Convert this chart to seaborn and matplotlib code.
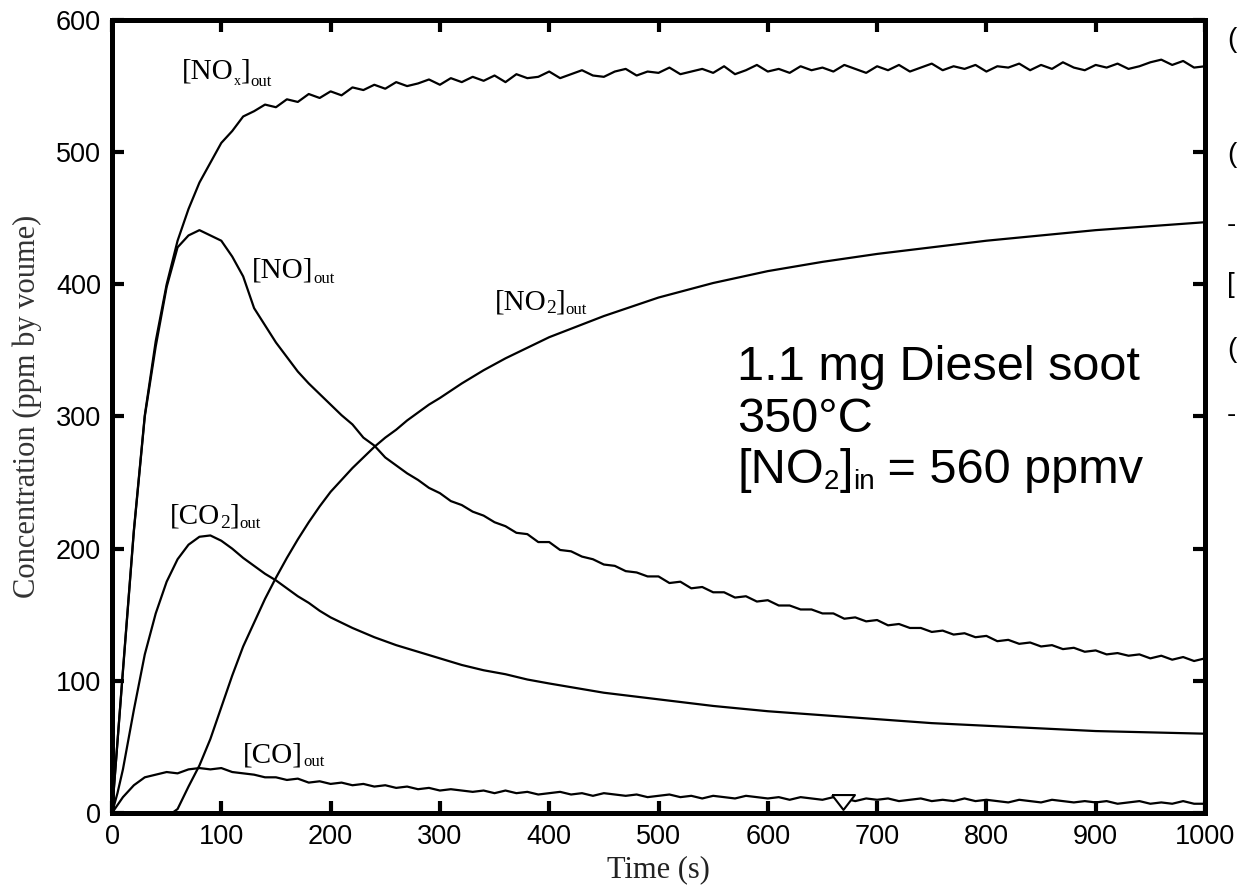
import matplotlib
matplotlib.use("Agg")
import matplotlib.pyplot as plt
import numpy as np
import pandas as pd
import seaborn as sns


# Time grid of the noisy analyser traces (s)
time_noisy = np.arange(0, 1001, 10)

# [NOx]out (ppmv)
nox_out = [0, 108, 214, 301, 357, 400, 433, 457, 477, 492,
           507, 516, 527, 531, 536, 534, 540, 538, 544, 541,
           546, 543, 549, 547, 551, 548, 553, 550, 552, 555,
           551, 556, 553, 557, 554, 558, 553, 559, 556, 557,
           561, 556, 559, 562, 558, 557, 561, 563, 558, 561,
           560, 564, 559, 561, 563, 560, 565, 559, 562, 566,
           561, 563, 560, 565, 562, 564, 561, 566, 563, 560,
           565, 562, 566, 561, 564, 567, 562, 565, 563, 566,
           561, 565, 564, 567, 562, 566, 563, 568, 564, 562,
           566, 564, 567, 563, 565, 568, 570, 566, 569, 564,
           565]

# [NO]out (ppmv)
no_out = [0, 107, 213, 300, 353, 398, 428, 437, 441, 437,
          433, 421, 406, 382, 369, 356, 345, 334, 325, 317,
          309, 301, 294, 284, 278, 269, 263, 257, 252, 246,
          242, 236, 233, 228, 225, 220, 217, 212, 211, 205,
          205, 199, 198, 194, 192, 188, 187, 183, 182, 179,
          179, 174, 175, 170, 171, 167, 167, 163, 164, 160,
          161, 157, 157, 154, 154, 151, 151, 147, 148, 145,
          146, 142, 143, 140, 140, 137, 138, 135, 136, 133,
          134, 130, 131, 128, 129, 126, 127, 124, 125, 122,
          123, 120, 121, 119, 120, 117, 119, 116, 118, 115,
          117]

# [CO]out (ppmv)
co_out = [0, 12, 21, 27, 29, 31, 30, 33, 34, 33,
          34, 31, 30, 29, 27, 27, 25, 26, 23, 24,
          22, 23, 21, 22, 20, 21, 19, 20, 18, 19,
          17, 18, 17, 16, 17, 15, 17, 15, 16, 14,
          15, 16, 14, 15, 13, 15, 14, 13, 14, 12,
          13, 14, 12, 13, 11, 13, 12, 11, 13, 12,
          11, 12, 10, 12, 11, 10, 12, 11, 9, 11,
          10, 11, 9, 10, 11, 9, 10, 9, 11, 9,
          10, 9, 8, 10, 9, 8, 10, 9, 8, 9,
          8, 9, 7, 8, 9, 7, 8, 7, 9, 7,
          7]

# [NO2]out (ppmv), smooth trace
time_no2 = [0, 55, 60, 70, 80, 90, 100, 110, 120, 130, 140, 150, 160, 170, 180,
            190, 200, 210, 220, 230, 240, 250, 260, 270, 280, 290, 300, 320, 340,
            360, 380, 400, 450, 500, 550, 600, 650, 700, 750, 800, 850, 900, 950, 1000]
no2_out = [0, 0, 3, 20, 36, 56, 80, 104, 126, 144, 162, 178, 193, 207, 220,
           232, 243, 252, 261, 269, 277, 284, 290, 297, 303, 309, 314, 325, 335,
           344, 352, 360, 376, 390, 401, 410, 417, 423, 428, 433, 437, 441, 444, 447]

# [CO2]out (ppmv), smooth trace
time_co2 = [0, 5, 10, 20, 30, 40, 50, 60, 70, 80, 90, 100, 110, 120, 130, 140,
            150, 160, 170, 180, 190, 200, 220, 240, 260, 280, 300, 320, 340, 360,
            380, 400, 450, 500, 550, 600, 650, 700, 750, 800, 850, 900, 950, 1000]
co2_out = [0, 15, 33, 78, 120, 151, 175, 192, 203, 209, 210, 206, 200, 193, 187, 181,
           176, 170, 164, 159, 153, 148, 140, 133, 127, 122, 117, 112, 108, 105,
           101, 98, 91, 86, 81, 77, 74, 71, 68, 66, 64, 62, 61, 60]

# open triangle marker near the bottom axis
marker_time = [669]
marker_conc = [8]

x_ticks = [0, 100, 200, 300, 400, 500, 600, 700, 800, 900, 1000]
y_ticks = [0, 100, 200, 300, 400, 500, 600]

SERIF = "Liberation Serif"
SANS = "Liberation Sans"

sns.set_style("ticks")
plt.rcParams["font.family"] = [SANS, "DejaVu Sans"]
plt.rcParams["text.color"] = "black"


def chem_label(ax, t, c, pieces, family):
    # pieces: (text, size, baseline shift in points); each piece follows the previous one
    first = ax.text(t, c, pieces[0][0], fontsize=pieces[0][1], family=family,
                    ha="left", va="baseline", color="black")
    prev = first
    for txt, size, shift in pieces[1:]:
        prev = ax.annotate(txt, xy=(1, c), xycoords=(prev, "data"),
                           xytext=(0, shift), textcoords="offset points",
                           fontsize=size, family=family, ha="left", va="baseline",
                           color="black")
    return first


fig = plt.figure(figsize=(12.43, 8.85), dpi=100)
ax = fig.add_axes([112 / 1243, 1 - 813 / 885, (1205 - 112) / 1243, (813 - 20) / 885])

noisy = pd.DataFrame({"t": time_noisy, "NOx": nox_out, "NO": no_out, "CO": co_out})
for col in ["NOx", "NO", "CO"]:
    sns.lineplot(data=noisy, x="t", y=col, ax=ax, color="black", lw=1.6, estimator=None)
sns.lineplot(x=time_no2, y=no2_out, ax=ax, color="black", lw=1.6, estimator=None)
sns.lineplot(x=time_co2, y=co2_out, ax=ax, color="black", lw=1.6, estimator=None)

tri = [(-1, 0.65), (1, 0.65), (0, -0.65), (-1, 0.65)]
ax.plot(marker_time, marker_conc, marker=tri, ms=16.5, mfc="white", mec="black",
        mew=1.5, ls="none", zorder=5)

ax.set_xlim(0, 1000)
ax.set_ylim(0, 600)
ax.set_xticks(x_ticks)
ax.set_yticks(y_ticks)
ax.tick_params(direction="in", length=8.5, width=3, top=True, right=True,
               labelsize=19.5, pad=8, colors="black")
for lab in ax.get_xticklabels() + ax.get_yticklabels():
    lab.set_family(SANS)
for sp in ax.spines.values():
    sp.set_visible(True)
    sp.set_linewidth(3.6)
    sp.set_color("black")

ax.set_xlabel("Time (s)", family=SERIF, fontsize=22, color="#222222")
ax.set_ylabel("Concentration (ppm by voume)", family=SERIF, fontsize=22, color="#333333")
ax.xaxis.set_label_coords(0.5, -0.053)
ax.yaxis.set_label_coords(-0.064, 0.513)

chem_label(ax, 64, 556, [("[NO", 21, 0), ("x", 10, -5), ("]", 21, 0), ("out", 12, -6)], SERIF)
chem_label(ax, 128, 405, [("[NO]", 21, 0), ("out", 12, -4)], SERIF)
chem_label(ax, 350, 381, [("[NO", 21, 0), ("2", 14, -2.5), ("]", 21, 0), ("out", 12, -3)], SERIF)
chem_label(ax, 53, 219, [("[CO", 21, 0), ("2", 14, -3), ("]", 21, 0), ("out", 12, -3)], SERIF)
chem_label(ax, 120, 38.5, [("[CO]", 21, 0), ("out", 12, -3)], SERIF)

# experiment conditions
ax.text(572, 327.6, "1.1 mg Diesel soot", fontsize=35, family=SANS, va="baseline", color="black")
ax.text(572, 288, "350°C", fontsize=35, family=SANS, va="baseline", color="black")
chem_label(ax, 572, 249.5, [("[NO", 35, 0), ("2", 20, -4), ("]", 35, 0), ("in", 20, -4),
                            (" = 560 ppmv", 35, 0)], SANS)

# fragments of neighbouring text cut by the right edge
for ypx, ch in [(40, "("), (155, "("), (225, "-"), (285, "["), (350, "("), (415, "-")]:
    fig.text(1227 / 1243, 1 - ypx / 885, ch, fontsize=20, family=SANS, va="center",
             ha="left", color="black")

fig.savefig("out.png", dpi=100)
